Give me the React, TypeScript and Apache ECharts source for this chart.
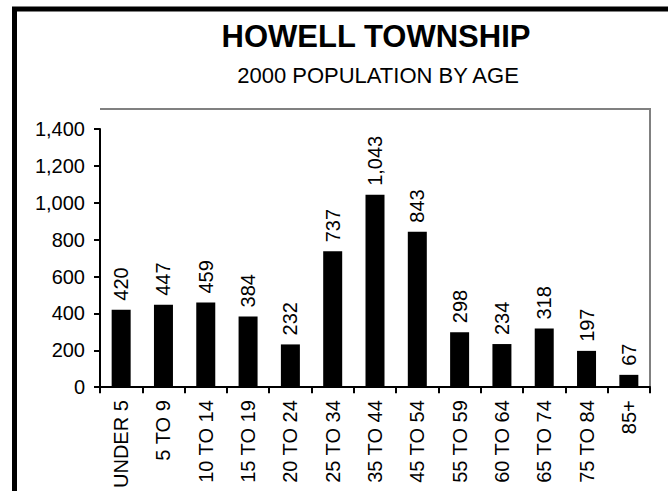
import React, { useEffect, useRef } from "react";
import * as echarts from "echarts";

const categories = [
  "UNDER 5", "5 TO 9", "10 TO 14", "15 TO 19", "20 TO 24", "25 TO 34",
  "35 TO 44", "45 TO 54", "55 TO 59", "60 TO 64", "65 TO 74", "75 TO 84", "85+",
];
const population = [420, 447, 459, 384, 232, 737, 1043, 843, 298, 234, 318, 197, 67];
const yMin = 0;
const yMax = 1400;
const yInterval = 200;
const titleText = "HOWELL TOWNSHIP";
const subtitleText = "2000 POPULATION BY AGE";

const FONT = "'Liberation Sans', Arial, Helvetica, sans-serif";
const fmt = (v: number) => Number(v).toLocaleString("en-US");

export default function App() {
  const ref = useRef<HTMLDivElement>(null);
  useEffect(() => {
    if (!ref.current) return;
    const chart = echarts.init(ref.current, null, { renderer: "svg" });
    chart.setOption({
      animation: false,
      backgroundColor: "#ffffff",
      textStyle: { fontFamily: FONT },
      title: [
        {
          text: titleText,
          left: 371,
          top: 16,
          textAlign: "center",
          textStyle: { fontFamily: FONT, fontSize: 31, fontWeight: "bold", color: "#000" },
        },
        {
          text: subtitleText,
          left: 373,
          top: 59,
          textAlign: "center",
          textStyle: { fontFamily: FONT, fontSize: 22, fontWeight: "normal", color: "#000" },
        },
      ],
      graphic: [
        {
          type: "rect",
          silent: true,
          shape: { x: 14.5, y: 9, width: 900, height: 900 },
          style: { fill: "none", stroke: "#000", lineWidth: 5 },
          z: 100,
        },
        {
          type: "polyline",
          silent: true,
          shape: { points: [[100, 109], [650, 109], [650, 391]] },
          style: { fill: "none", stroke: "#808080", lineWidth: 2 },
          z: 0,
        },
      ],
      grid: { left: 100, right: 18, top: 129, bottom: 100, containLabel: false },
      xAxis: {
        type: "category",
        data: categories,
        boundaryGap: true,
        axisLine: { show: true, lineStyle: { color: "#000", width: 2 } },
        axisTick: { show: true, alignWithLabel: false, length: 6, lineStyle: { color: "#000", width: 2 } },
        axisLabel: {
          interval: 0,
          rotate: 90,
          margin: 13,
          fontFamily: FONT,
          fontSize: 20,
          color: "#000",
        },
        splitLine: { show: false },
      },
      yAxis: {
        type: "value",
        min: yMin,
        max: yMax,
        interval: yInterval,
        axisLine: { show: true, lineStyle: { color: "#000", width: 2 } },
        axisTick: { show: true, inside: false, length: 6, lineStyle: { color: "#000", width: 2 } },
        axisLabel: {
          formatter: (v: number) => fmt(v),
          margin: 15,
          fontFamily: FONT,
          fontSize: 20,
          color: "#000",
        },
        splitLine: { show: false },
      },
      series: [
        {
          type: "bar",
          data: population,
          barWidth: 19,
          itemStyle: { color: "#000" },
          label: {
            show: true,
            position: "top",
            rotate: 90,
            align: "left",
            verticalAlign: "middle",
            distance: 9,
            formatter: (p: any) => fmt(p.value),
            fontFamily: FONT,
            fontSize: 20,
            color: "#000",
          },
        },
      ],
    });
    return () => chart.dispose();
  }, []);
  return (
    <div
      ref={ref}
      style={{ position: "fixed", left: 0, top: 0, width: 668, height: 491, background: "#fff" }}
    />
  );
}
